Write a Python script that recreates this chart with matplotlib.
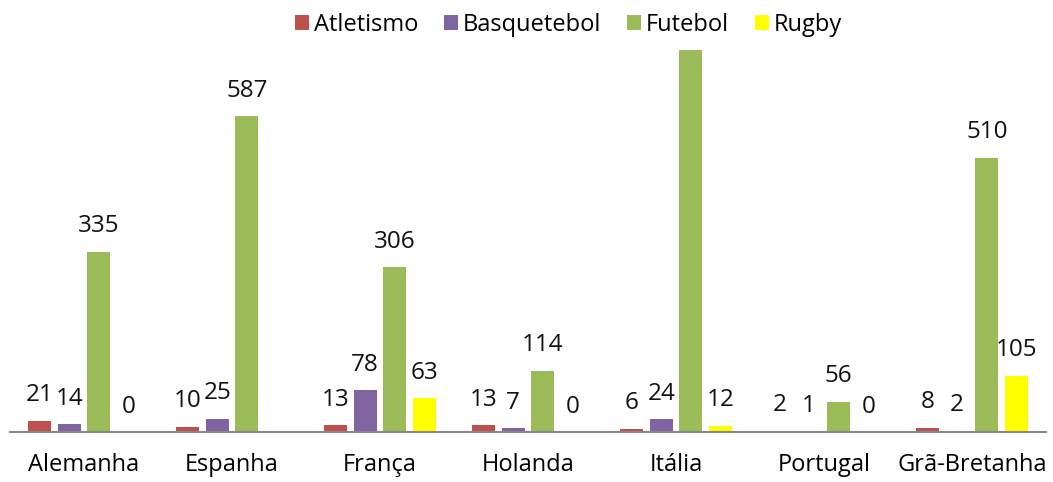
import numpy as np
from matplotlib import pyplot as plt

paises = ['Alemanha', 'Espanha', 'França', 'Holanda', 'Itália', 'Portugal', 'Grã-Bretanha']
atletismo = [21, 10, 13, 13, 6, 2, 8]
basquetebol = [14, 25, 78, 7, 24, 1, 2]
futebol = [335, 587, 306, 114, 760, 56, 510]  # Italy bar runs off the top, value estimated
rugby = [0, None, 63, 0, 12, 0, 105]  # no Espanha value shown

series = [('Atletismo', atletismo, '#C0504D'),
          ('Basquetebol', basquetebol, '#8064A2'),
          ('Futebol', futebol, '#9BBB59'),
          ('Rugby', rugby, '#FFFF00')]

plt.rcParams['font.family'] = ['Open Sans', 'DejaVu Sans']

fig = plt.figure(figsize=(10.53, 4.82), dpi=100)
ax = fig.add_axes([10 / 1053, 1 - 432 / 482, 1036 / 1053, 382 / 482])
ymax = 710
x = np.arange(len(paises))
for i, (nome, vals, cor) in enumerate(series):
    pos = x - 0.3 + i * 0.2
    altura = [0 if v is None else v for v in vals]
    ax.bar(pos, altura, width=0.155, color=cor, label=nome, zorder=2)
    for p, v in zip(pos, vals):
        if v is not None and v <= ymax:
            ax.annotate(str(v), (p, v), xytext=(0, 14), textcoords='offset points',
                        ha='center', va='baseline', fontsize=17.5, color='#111111')

ax.set_xlim(-0.5, len(paises) - 0.5)
ax.set_ylim(0, ymax)
ax.set_yticks([])
ax.set_xticks(x)
ax.set_xticklabels(paises, fontsize=17)
ax.tick_params(axis='x', length=0, pad=15)
for s in ['top', 'right', 'left']:
    ax.spines[s].set_visible(False)
ax.spines['bottom'].set_color('#888888')
ax.spines['bottom'].set_linewidth(1.5)

fig.legend(loc='upper center', bbox_to_anchor=(0.54, 1.017), ncol=4, frameon=False,
           fontsize=17, handlelength=0.6, handleheight=0.6, handletextpad=0.2,
           columnspacing=1.1)
fig.savefig('out.png', dpi=100)
